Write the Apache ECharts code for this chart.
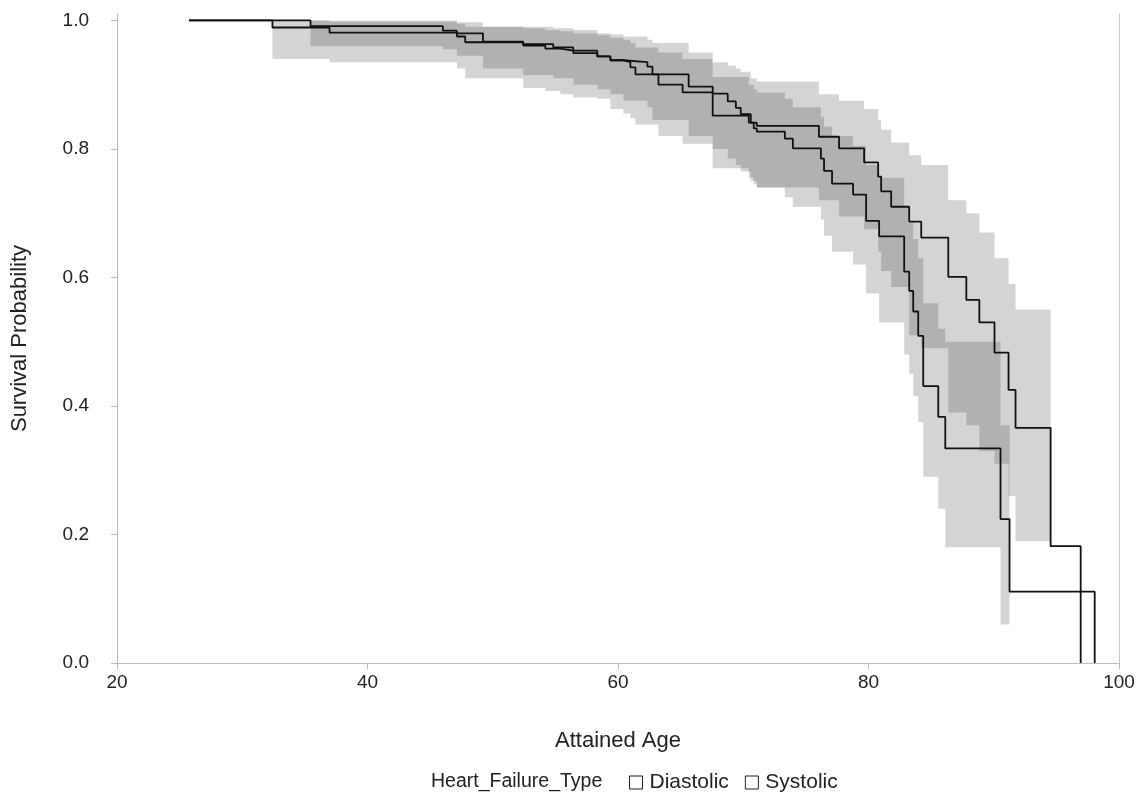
<!DOCTYPE html>
<html>
<head>
<meta charset="utf-8">
<title>Survival by heart failure type</title>
<script src="https://cdn.jsdelivr.net/npm/echarts@6/dist/echarts.min.js"></script>
<style>
  html, body { margin: 0; padding: 0; background: #fff; }
  #chart { width: 1145px; height: 799px; }
</style>
</head>
<body>
<div id="chart"></div>
<script>
// tick labels
var xTicks = [20, 40, 60, 80, 100];
var yTicks = [0, 0.2, 0.4, 0.6, 0.8, 1.0];

// Diastolic step curve (attained age, survival)
var diaAge = [25.76, 35.45, 46.02, 47.14, 49.22, 52.43, 54.83, 56.43, 58.35, 59.39, 60.43, 62.35, 62.75, 65.64, 67.56, 68.76, 69.41, 69.80, 70.60, 71.08, 76.04, 77.65, 79.65, 80.77, 81.01, 81.81, 83.25, 84.21, 86.37, 87.81, 88.85, 90.06, 91.18, 91.74, 94.54, 96.94];
var diaSurv = [1.0, 0.991, 0.984, 0.980, 0.967, 0.963, 0.958, 0.953, 0.944, 0.938, 0.935, 0.928, 0.916, 0.897, 0.886, 0.874, 0.864, 0.854, 0.841, 0.836, 0.819, 0.801, 0.779, 0.757, 0.734, 0.710, 0.687, 0.662, 0.601, 0.565, 0.530, 0.483, 0.425, 0.366, 0.182, 0];
// Diastolic confidence band (last age closes the final step)
var diaBandAge = [35.45, 46.02, 47.14, 49.22, 52.43, 54.83, 56.43, 58.35, 59.39, 60.43, 62.35, 62.75, 65.64, 67.56, 68.76, 69.41, 69.80, 70.60, 71.08, 76.04, 77.65, 79.65, 80.77, 81.01, 81.81, 83.25, 84.21, 86.37, 87.81, 88.85, 90.06, 91.18, 91.74, 94.54];
var diaLo = [0.96, 0.955, 0.945, 0.925, 0.915, 0.91, 0.90, 0.893, 0.885, 0.875, 0.865, 0.845, 0.82, 0.80, 0.785, 0.775, 0.765, 0.75, 0.74, 0.72, 0.695, 0.675, 0.64, 0.61, 0.585, 0.51, 0.49, 0.39, 0.37, 0.33, 0.31, 0.26, 0.19, 0.19];
var diaHi = [1.0, 1.0, 0.997, 0.99, 0.99, 0.988, 0.985, 0.98, 0.978, 0.975, 0.97, 0.965, 0.95, 0.935, 0.93, 0.925, 0.92, 0.91, 0.905, 0.885, 0.875, 0.862, 0.845, 0.83, 0.81, 0.79, 0.775, 0.72, 0.70, 0.67, 0.63, 0.59, 0.55, 0.55];

// Systolic step curve
var sysAge = [25.76, 32.41, 36.97, 47.14, 47.80, 52.43, 54.20, 55.40, 56.43, 58.35, 59.39, 60.43, 60.99, 61.39, 63.23, 65.16, 67.56, 70.44, 70.84, 71.08, 73.32, 73.96, 76.20, 76.45, 77.09, 78.77, 79.81, 80.85, 82.85, 83.25, 83.57, 83.97, 84.37, 85.57, 86.13, 90.54, 91.26, 98.06];
var sysSurv = [1.0, 0.989, 0.981, 0.975, 0.966, 0.961, 0.956, 0.953, 0.949, 0.944, 0.938, 0.935, 0.927, 0.916, 0.900, 0.888, 0.852, 0.841, 0.832, 0.827, 0.816, 0.801, 0.785, 0.766, 0.746, 0.729, 0.688, 0.664, 0.609, 0.579, 0.547, 0.509, 0.431, 0.383, 0.334, 0.224, 0.111, 0];
// Systolic confidence band
var sysBandAge = [32.41, 36.97, 47.14, 47.80, 52.43, 54.20, 55.40, 56.43, 58.35, 59.39, 60.43, 60.99, 61.39, 63.23, 65.16, 67.56, 70.44, 70.84, 71.08, 73.32, 73.96, 76.20, 76.45, 77.09, 78.77, 79.81, 80.85, 82.85, 83.25, 83.57, 83.97, 84.37, 85.57, 86.13, 90.54, 91.26];
var sysLo = [0.94, 0.935, 0.925, 0.91, 0.895, 0.89, 0.885, 0.88, 0.878, 0.862, 0.855, 0.848, 0.838, 0.82, 0.808, 0.77, 0.755, 0.745, 0.74, 0.725, 0.71, 0.69, 0.665, 0.64, 0.62, 0.575, 0.53, 0.48, 0.45, 0.415, 0.375, 0.29, 0.24, 0.18, 0.06, 0.06];
var sysHi = [1.0, 0.998, 0.995, 0.99, 0.988, 0.985, 0.983, 0.98, 0.977, 0.973, 0.97, 0.965, 0.958, 0.95, 0.94, 0.912, 0.9, 0.893, 0.888, 0.878, 0.865, 0.85, 0.835, 0.82, 0.805, 0.775, 0.755, 0.71, 0.685, 0.66, 0.63, 0.56, 0.52, 0.50, 0.37, 0.37];

var FONT = "'Liberation Sans', Arial, sans-serif";
var INK = '#222';

function pairs(xs, ys) {
  return xs.map(function (x, i) { return [x, ys[i]]; });
}

// band drawn as one stepped polygon through the axis scales
function band(ages, lo, hi) {
  return {
    type: 'custom', silent: true, z: 1,
    data: ages.map(function (a, i) { return [a, lo[i], hi[i]]; }),
    encode: { x: 0, y: [1, 2] },
    renderItem: function (params, api) {
      if (params.dataIndex !== 0) return null;
      var n = ages.length, pts = [], i;
      for (i = 0; i < n - 1; i++) {
        pts.push(api.coord([ages[i], hi[i]]));
        pts.push(api.coord([ages[i + 1], hi[i]]));
      }
      for (i = n - 2; i >= 0; i--) {
        pts.push(api.coord([ages[i + 1], lo[i]]));
        pts.push(api.coord([ages[i], lo[i]]));
      }
      return {
        type: 'polygon',
        shape: { points: pts },
        style: { fill: 'rgba(0,0,0,0.17)' }
      };
    }
  };
}

function curve(name, ages, surv) {
  return {
    name: name, type: 'line', step: 'end', symbol: 'none', z: 5,
    itemStyle: { color: '#111' },
    lineStyle: { color: '#111', width: 1.8 },
    data: pairs(ages, surv)
  };
}

var chart = echarts.init(document.getElementById('chart'));
chart.setOption({
  animation: false,
  textStyle: { fontFamily: FONT, color: INK },
  title: {
    text: 'Heart_Failure_Type',
    left: 426, top: 767,
    textStyle: { fontFamily: FONT, fontSize: 19.5, fontWeight: 'normal', color: INK }
  },
  legend: {
    data: ['Diastolic', 'Systolic'],
    left: 624, top: 767,
    icon: 'rect', itemWidth: 13, itemHeight: 13, itemGap: 16,
    itemStyle: { color: '#fff', borderColor: INK, borderWidth: 1 },
    textStyle: { fontFamily: FONT, fontSize: 21, color: INK, padding: [0, 0, 0, 2] }
  },
  grid: { left: 117, right: 26, top: 14, bottom: 136, show: false },
  xAxis: [
    {
      type: 'value', min: 20, max: 100, interval: 20,
      name: 'Attained Age', nameLocation: 'middle', nameGap: 67,
      nameTextStyle: { fontFamily: FONT, fontSize: 22, color: INK },
      axisLine: { lineStyle: { color: '#aaa', type: 'dotted' } },
      axisTick: { show: true, length: 6, lineStyle: { color: '#bbb' }, customValues: xTicks },
      axisLabel: { fontSize: 19, color: INK, margin: 10, customValues: xTicks },
      splitLine: { show: false }
    },
    {
      type: 'value', min: 20, max: 100, position: 'top',
      axisLine: { show: true, lineStyle: { color: '#bbb', type: 'dotted' } },
      axisTick: { show: false }, axisLabel: { show: false }, splitLine: { show: false }
    }
  ],
  yAxis: [
    {
      type: 'value', min: 0, max: 1.01,
      name: 'Survival Probability', nameLocation: 'middle', nameGap: 86,
      nameTextStyle: { fontFamily: FONT, fontSize: 22, color: INK },
      axisLine: { show: true, lineStyle: { color: '#aaa', type: 'dotted' } },
      axisTick: { show: true, length: 6, lineStyle: { color: '#bbb' }, customValues: yTicks },
      axisLabel: {
        fontSize: 19, color: INK, margin: 28, customValues: yTicks,
        formatter: function (v) { return v.toFixed(1); }
      },
      splitLine: { show: false }
    },
    {
      type: 'value', min: 0, max: 1.01, position: 'right',
      axisLine: { show: true, lineStyle: { color: '#bbb', type: 'dotted' } },
      axisTick: { show: false }, axisLabel: { show: false }, splitLine: { show: false }
    }
  ],
  series: [
    band(diaBandAge, diaLo, diaHi),
    band(sysBandAge, sysLo, sysHi),
    curve('Diastolic', diaAge, diaSurv),
    curve('Systolic', sysAge, sysSurv)
  ]
});
</script>
</body>
</html>
